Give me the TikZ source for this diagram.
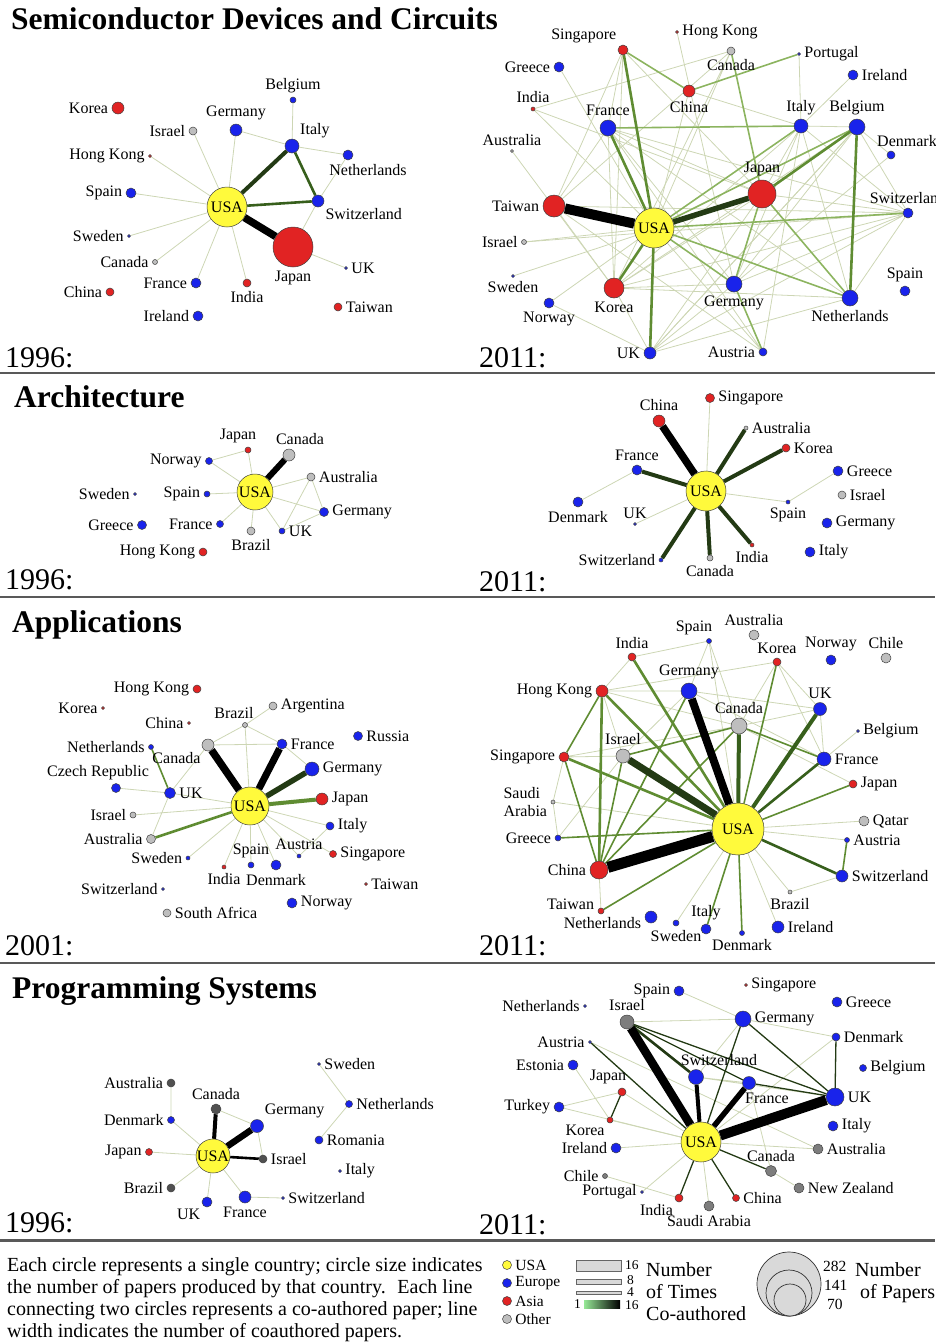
\documentclass[tikz,border=0pt]{standalone}
\usepackage{fontspec}
\setmainfont{Liberation Serif}
\usepackage{xcolor}
\usetikzlibrary{positioning}

\definecolor{usaY}{RGB}{255,250,60}
\definecolor{euB}{RGB}{25,35,235}
\definecolor{asR}{RGB}{225,35,35}
\definecolor{otG}{RGB}{190,190,190}
\definecolor{otD}{RGB}{80,80,80}
\definecolor{otM}{RGB}{125,125,125}
\definecolor{eA}{RGB}{205,214,180}
\definecolor{eB}{RGB}{140,180,95}
\definecolor{eC}{RGB}{95,140,50}
\definecolor{eD}{RGB}{55,95,28}
\definecolor{eE}{RGB}{35,58,20}
\definecolor{keyG}{RGB}{150,232,150}

\newcommand{\lblsize}{\fontsize{16}{18}\selectfont}
\newcommand{\keysize}{\fontsize{15.5}{17}\selectfont}
\newcommand{\barsize}{\fontsize{13.5}{15}\selectfont}

\pgfdeclarelayer{bg}
\pgfsetlayers{bg,main}

\begin{document}
\begin{tikzpicture}[
  x=1pt, y=-1pt,
  ctry/.style={circle, draw=black!75, line width=0.5pt, inner sep=0pt},
  usa/.style={ctry, fill=usaY, font=\lblsize},
  eu/.style={ctry, fill=euB},
  as/.style={ctry, fill=asR},
  ot/.style={ctry, fill=otG},
  otd/.style={ctry, fill=otD},
  otm/.style={ctry, fill=otM},
  every label/.append style={font=\lblsize, inner sep=1.5pt},
  label distance=2pt,
  w1/.style={line width=0.8pt, draw=eA},
  w2/.style={line width=1.6pt, draw=eB},
  w3/.style={line width=2.6pt, draw=eC},
  w4/.style={line width=4pt, draw=eD},
  w5/.style={line width=5.5pt, draw=eE},
  w6/.style={line width=7.5pt, draw=black},
  w7/.style={line width=10pt, draw=black},
  title/.style={font=\fontsize{31.5}{33}\selectfont\bfseries, anchor=base west, inner sep=0pt},
  year/.style={font=\fontsize{30}{32}\selectfont, anchor=base west, inner sep=0pt},
  sepline/.style={line width=2pt, draw=black!65}
]
\useasboundingbox (0,0) rectangle (935,1342);

% titles, years and rules
\node[title] (tsemi) at (11,29) {Semiconductor Devices and Circuits};
\node[title] (tarch) at (14,407) {Architecture};
\node[title] (tapp) at (12,632) {Applications};
\node[title] (tprog) at (12,998) {Programming Systems};
\node[year] (ysd96) at (5,367) {1996:};
\node[year] (ysd11) at (479,367) {2011:};
\node[year] (yar96) at (5,589) {1996:};
\node[year] (yar11) at (479,591) {2011:};
\node[year] (yap01) at (5,955) {2001:};
\node[year] (yap11) at (479,955) {2011:};
\node[year] (yps96) at (5,1232) {1996:};
\node[year] (yps11) at (479,1234) {2011:};
\draw[sepline] (0,373) -- (935,373);
\draw[sepline] (0,597) -- (935,597);
\draw[sepline] (0,963) -- (935,963);
\draw[sepline, line width=3pt] (0,1240) -- (935,1240);

%Nodes Semiconductor 1996
\node[usa, minimum size=40pt] (sd96usa) at (227,207) {USA};
\node[as, minimum size=40pt, label=below:Japan] (sd96jap) at (293,247) {};
\node[as, minimum size=12pt, label=left:Korea] (sd96kor) at (118,108) {};
\node[eu, minimum size=6pt, label=above:Belgium] (sd96bel) at (293,100) {};
\node[eu, minimum size=12pt, label=above:Germany] (sd96ger) at (236,130) {};
\node[ot, minimum size=8pt, label=left:Israel] (sd96isr) at (193,131) {};
\node[eu, minimum size=14pt, label=above right:Italy] (sd96ita) at (292,146) {};
\node[as, minimum size=3pt, label=left:Hong Kong] (sd96hk) at (150,156) {};
\node[eu, minimum size=10pt, label={[xshift=20pt]below:Netherlands}] (sd96net) at (348,155) {};
\node[eu, minimum size=10pt, label=left:Spain] (sd96spa) at (131,193) {};
\node[eu, minimum size=12pt, label=below right:Switzerland] (sd96swi) at (318,201) {};
\node[eu, minimum size=3pt, label=left:Sweden] (sd96swe) at (129,236) {};
\node[ot, minimum size=5pt, label=left:Canada] (sd96can) at (155,262) {};
\node[eu, minimum size=10pt, label=left:France] (sd96fra) at (196,283) {};
\node[as, minimum size=8pt, label=below:India] (sd96ind) at (247,283) {};
\node[eu, minimum size=3pt, label=right:UK] (sd96uk) at (346,268) {};
\node[as, minimum size=8pt, label=left:China] (sd96chi) at (110,292) {};
\node[as, minimum size=8pt, label=right:Taiwan] (sd96tai) at (338,307) {};
\node[eu, minimum size=10pt, label=left:Ireland] (sd96ire) at (198,316) {};

%Nodes Semiconductor 2011
\node[usa, minimum size=40pt] (sd11usa) at (654,228) {USA};
\node[as, minimum size=22pt, label=left:Taiwan] (sd11tai) at (554,206) {};
\node[as, minimum size=28pt, label=above:Japan] (sd11jap) at (762,194) {};
\node[as, minimum size=20pt, label=below:Korea] (sd11kor) at (614,288) {};
\node[as, minimum size=10pt, label=above left:Singapore] (sd11sgp) at (623,50) {};
\node[as, minimum size=3pt, label=right:Hong Kong] (sd11hk) at (677,32) {};
\node[ot, minimum size=8pt, label=below:Canada] (sd11can) at (731,51) {};
\node[eu, minimum size=3pt, label=right:Portugal] (sd11por) at (799,54) {};
\node[eu, minimum size=10pt, label=left:Greece] (sd11gre) at (559,67) {};
\node[eu, minimum size=10pt, label=right:Ireland] (sd11ire) at (853,75) {};
\node[as, minimum size=4pt, label=above:India] (sd11ind) at (533,109) {};
\node[as, minimum size=12pt, label=below:China] (sd11chi) at (689,91) {};
\node[eu, minimum size=16pt, label=above:France] (sd11fra) at (608,128) {};
\node[eu, minimum size=14pt, label=above:Italy] (sd11ita) at (801,126) {};
\node[eu, minimum size=16pt, label=above:Belgium] (sd11bel) at (857,127) {};
\node[ot, minimum size=3pt, label=above:Australia] (sd11aus) at (512,151) {};
\node[eu, minimum size=8pt, label={[xshift=16pt]above:Denmark}] (sd11den) at (891,155) {};
\node[eu, minimum size=10pt, label=above:Switzerland] (sd11swi) at (908,213) {};
\node[ot, minimum size=5pt, label=left:Israel] (sd11isr) at (524,242) {};
\node[eu, minimum size=3pt, label=below:Sweden] (sd11swe) at (513,276) {};
\node[eu, minimum size=16pt, label=below:Germany] (sd11ger) at (734,284) {};
\node[eu, minimum size=16pt, label=below:Netherlands] (sd11net) at (850,298) {};
\node[eu, minimum size=10pt, label=above:Spain] (sd11spa) at (905,291) {};
\node[eu, minimum size=10pt, label=below:Norway] (sd11nor) at (549,303) {};
\node[eu, minimum size=12pt, label=left:UK] (sd11uk) at (650,353) {};
\node[eu, minimum size=8pt, label=left:Austria] (sd11aut) at (763,352) {};

%Nodes Architecture 1996
\node[usa, minimum size=36pt] (ar96usa) at (255,492) {USA};
\node[as, minimum size=6pt, label={[xshift=-10pt]above:Japan}] (ar96jap) at (248,450) {};
\node[ot, minimum size=12pt, label={[xshift=11pt]above:Canada}] (ar96can) at (289,455) {};
\node[eu, minimum size=7pt, label=left:Norway] (ar96nor) at (209,461) {};
\node[ot, minimum size=8pt, label=right:Australia] (ar96aus) at (311,477) {};
\node[eu, minimum size=3pt, label=left:Sweden] (ar96swe) at (135,494) {};
\node[eu, minimum size=6pt, label=left:Spain] (ar96spa) at (207,494) {};
\node[eu, minimum size=9pt, label=right:Germany] (ar96ger) at (324,512) {};
\node[eu, minimum size=9pt, label=left:Greece] (ar96gre) at (142,525) {};
\node[eu, minimum size=7pt, label=left:France] (ar96fra) at (220,524) {};
\node[ot, minimum size=8pt, label=below:Brazil] (ar96bra) at (251,531) {};
\node[eu, minimum size=6pt, label=right:UK] (ar96uk) at (282,531) {};
\node[as, minimum size=8pt, label=left:Hong Kong] (ar96hk) at (203,552) {};

%Nodes Architecture 2011
\node[usa, minimum size=40pt] (ar11usa) at (706,491) {USA};
\node[as, minimum size=12pt, label=above:China] (ar11chi) at (659,421) {};
\node[as, minimum size=9pt, label=right:Singapore] (ar11sgp) at (710,398) {};
\node[ot, minimum size=4pt, label=right:Australia] (ar11aus) at (746,428) {};
\node[as, minimum size=8pt, label=right:Korea] (ar11kor) at (786,448) {};
\node[eu, minimum size=10pt, label=above:France] (ar11fra) at (637,470) {};
\node[eu, minimum size=10pt, label=right:Greece] (ar11gre) at (838,471) {};
\node[ot, minimum size=8pt, label=right:Israel] (ar11isr) at (842,495) {};
\node[eu, minimum size=10pt, label=below:Denmark] (ar11den) at (578,502) {};
\node[eu, minimum size=3pt, label=above:UK] (ar11uk) at (635,524) {};
\node[eu, minimum size=4pt, label=below:Spain] (ar11spa) at (788,502) {};
\node[eu, minimum size=10pt, label=right:Germany] (ar11ger) at (827,523) {};
\node[eu, minimum size=10pt, label=right:Italy] (ar11ita) at (810,552) {};
\node[eu, minimum size=4pt, label=left:Switzerland] (ar11swi) at (661,560) {};
\node[ot, minimum size=6pt, label=below:Canada] (ar11can) at (710,558) {};
\node[as, minimum size=4pt, label=below:India] (ar11ind) at (752,545) {};

%Nodes Applications 2001
\node[usa, minimum size=38pt] (ap01usa) at (250,806) {USA};
\node[as, minimum size=8pt, label=left:Hong Kong] (ap01hk) at (197,689) {};
\node[as, minimum size=3pt, label=left:Korea] (ap01kor) at (103,708) {};
\node[ot, minimum size=5pt, label={[xshift=-11pt]above:Brazil}] (ap01bra) at (245,725) {};
\node[ot, minimum size=8pt, label=right:Argentina] (ap01arg) at (273,706) {};
\node[as, minimum size=3pt, label=left:China] (ap01chi) at (189,723) {};
\node[eu, minimum size=5pt, label=left:Netherlands] (ap01net) at (151,747) {};
\node[ot, minimum size=12pt, label=below left:Canada] (ap01can) at (208,745) {};
\node[eu, minimum size=10pt, label=right:France] (ap01fra) at (282,744) {};
\node[eu, minimum size=9pt, label=right:Russia] (ap01rus) at (358,736) {};
\node[eu, minimum size=14pt, label=right:Germany] (ap01ger) at (312,769) {};
\node[eu, minimum size=9pt, label={[xshift=-18pt]above:Czech Republic}] (ap01cze) at (116,788) {};
\node[eu, minimum size=11pt, label=right:UK] (ap01uk) at (170,793) {};
\node[as, minimum size=12pt, label=right:Japan] (ap01jap) at (322,799) {};
\node[ot, minimum size=6pt, label=left:Israel] (ap01isr) at (133,815) {};
\node[eu, minimum size=8pt, label=right:Italy] (ap01ita) at (330,826) {};
\node[ot, minimum size=9pt, label=left:Australia] (ap01aus) at (151,839) {};
\node[eu, minimum size=4pt, label=above:Austria] (ap01aut) at (299,856) {};
\node[eu, minimum size=6pt, label=above:Spain] (ap01spa) at (251,865) {};
\node[as, minimum size=7pt, label=right:Singapore] (ap01sgp) at (333,854) {};
\node[eu, minimum size=4pt, label=left:Sweden] (ap01swe) at (188,858) {};
\node[eu, minimum size=10pt, label=below:Denmark] (ap01den) at (276,865) {};
\node[as, minimum size=4pt, label=below:India] (ap01ind) at (224,867) {};
\node[eu, minimum size=3pt, label=left:Switzerland] (ap01swz) at (163,889) {};
\node[as, minimum size=3pt, label=right:Taiwan] (ap01tai) at (366,884) {};
\node[eu, minimum size=10pt, label=right:Norway] (ap01nor) at (292,903) {};
\node[ot, minimum size=8pt, label=right:South Africa] (ap01saf) at (167,913) {};

%Nodes Applications 2011
\node[usa, minimum size=52pt] (ap11usa) at (738,829) {USA};
\node[as, minimum size=18pt, label=left:China] (ap11chi) at (599,870) {};
\node[eu, minimum size=16pt, label=above:Germany] (ap11ger) at (689,691) {};
\node[ot, minimum size=16pt, label=above:Canada] (ap11can) at (739,726) {};
\node[ot, minimum size=14pt, label=above:Israel] (ap11isr) at (623,756) {};
\node[as, minimum size=12pt, label=left:Hong Kong] (ap11hk) at (602,691) {};
\node[as, minimum size=8pt, label=above:India] (ap11ind) at (632,657) {};
\node[eu, minimum size=5pt, label={[xshift=-15pt]above:Spain}] (ap11spa) at (709,641) {};
\node[ot, minimum size=10pt, label=above:Australia] (ap11aus) at (754,635) {};
\node[as, minimum size=8pt, label=above:Korea] (ap11kor) at (777,662) {};
\node[eu, minimum size=10pt, label=above:Norway] (ap11nor) at (831,660) {};
\node[ot, minimum size=10pt, label=above:Chile] (ap11chl) at (886,658) {};
\node[eu, minimum size=13pt, label=above:UK] (ap11uk) at (820,709) {};
\node[eu, minimum size=3pt, label=right:Belgium] (ap11bel) at (858,731) {};
\node[eu, minimum size=14pt, label=right:France] (ap11fra) at (824,759) {};
\node[as, minimum size=8pt, label=right:Japan] (ap11jap) at (853,784) {};
\node[as, minimum size=10pt, label=left:Singapore] (ap11sgp) at (564,757) {};
\node[ot, minimum size=4pt, label={[align=left]left:{Saudi\\Arabia}}] (ap11sau) at (553,802) {};
\node[eu, minimum size=6pt, label=left:Greece] (ap11gre) at (558,838) {};
\node[ot, minimum size=10pt, label=right:Qatar] (ap11qat) at (864,821) {};
\node[eu, minimum size=5pt, label=right:Austria] (ap11aut) at (847,840) {};
\node[eu, minimum size=12pt, label=right:Switzerland] (ap11swi) at (842,876) {};
\node[ot, minimum size=4pt, label=below:Brazil] (ap11bra) at (790,892) {};
\node[as, minimum size=6pt, label={[yshift=7pt]left:Taiwan}] (ap11tai) at (601,911) {};
\node[eu, minimum size=12pt, label={[yshift=-6pt]left:Netherlands}] (ap11net) at (651,917) {};
\node[eu, minimum size=6pt, label=below:Sweden] (ap11swe) at (676,923) {};
\node[eu, minimum size=10pt, label=above:Italy] (ap11ita) at (706,929) {};
\node[eu, minimum size=5pt, label=below:Denmark] (ap11den) at (742,933) {};
\node[eu, minimum size=12pt, label=right:Ireland] (ap11ire) at (778,927) {};

%Nodes Programming 1996
\node[usa, minimum size=34pt] (ps96usa) at (213,1156) {USA};
\node[otd, minimum size=8pt, label=left:Australia] (ps96aus) at (171,1083) {};
\node[otd, minimum size=10pt, label=above:Canada] (ps96can) at (216,1109) {};
\node[eu, minimum size=13pt, label=above right:Germany] (ps96ger) at (257,1126) {};
\node[eu, minimum size=7pt, label=left:Denmark] (ps96den) at (171,1120) {};
\node[as, minimum size=7pt, label=left:Japan] (ps96jap) at (149,1152) {};
\node[otd, minimum size=8pt, label=right:Israel] (ps96isr) at (263,1159) {};
\node[otd, minimum size=8pt, label=left:Brazil] (ps96bra) at (171,1188) {};
\node[eu, minimum size=10pt, label=below left:UK] (ps96uk) at (207,1202) {};
\node[eu, minimum size=12pt, label=below:France] (ps96fra) at (245,1197) {};
\node[eu, minimum size=3pt, label=right:Switzerland] (ps96swz) at (283,1198) {};
\node[eu, minimum size=3pt, label=right:Sweden] (ps96swe) at (319,1064) {};
\node[eu, minimum size=7pt, label=right:Netherlands] (ps96net) at (349,1104) {};
\node[eu, minimum size=8pt, label=right:Romania] (ps96rom) at (319,1140) {};
\node[eu, minimum size=3pt, label=right:Italy] (ps96ita) at (340,1171) {};

%Nodes Programming 2011
\node[usa, minimum size=40pt] (ps11usa) at (701,1142) {USA};
\node[otm, minimum size=14pt, label=above:Israel] (ps11isr) at (627,1022) {};
\node[eu, minimum size=3pt, label=left:Netherlands] (ps11net) at (585,1006) {};
\node[eu, minimum size=10pt, label=left:Spain] (ps11spa) at (679,991) {};
\node[as, minimum size=3pt, label=right:Singapore] (ps11sgp) at (746,985) {};
\node[eu, minimum size=16pt, label=right:Germany] (ps11ger) at (743,1019) {};
\node[eu, minimum size=10pt, label=right:Greece] (ps11gre) at (837,1002) {};
\node[eu, minimum size=8pt, label=right:Denmark] (ps11den) at (836,1037) {};
\node[eu, minimum size=3pt, label=left:Austria] (ps11aut) at (590,1042) {};
\node[eu, minimum size=10pt, label=left:Estonia] (ps11est) at (573,1065) {};
\node[eu, minimum size=15pt, label={[xshift=23pt]above:Switzerland}] (ps11swi) at (696,1077) {};
\node[eu, minimum size=7pt, label=right:Belgium] (ps11bel) at (863,1068) {};
\node[as, minimum size=8pt, label={[xshift=-14pt]above:Japan}] (ps11jap) at (622,1092) {};
\node[eu, minimum size=13pt, label={[xshift=18pt]below:France}] (ps11fra) at (749,1083) {};
\node[eu, minimum size=18pt, label=right:UK] (ps11uk) at (835,1097) {};
\node[eu, minimum size=10pt, label=left:Turkey] (ps11tur) at (559,1107) {};
\node[as, minimum size=6pt, label=below left:Korea] (ps11kor) at (610,1120) {};
\node[eu, minimum size=10pt, label=right:Italy] (ps11ita) at (833,1126) {};
\node[eu, minimum size=10pt, label=left:Ireland] (ps11ire) at (616,1148) {};
\node[otm, minimum size=10pt, label=right:Australia] (ps11aus) at (818,1149) {};
\node[otm, minimum size=11pt, label=above:Canada] (ps11can) at (771,1171) {};
\node[otm, minimum size=5pt, label=left:Chile] (ps11chl) at (605,1176) {};
\node[otm, minimum size=10pt, label=right:New Zealand] (ps11nzl) at (799,1188) {};
\node[eu, minimum size=3pt, label=left:Portugal] (ps11por) at (642,1192) {};
\node[as, minimum size=8pt, label=below left:India] (ps11ind) at (679,1198) {};
\node[as, minimum size=7pt, label=right:China] (ps11chi) at (736,1198) {};
\node[otm, minimum size=10pt, label=below:Saudi Arabia] (ps11sau) at (709,1206) {};

%Lines
\begin{pgfonlayer}{bg}
% semiconductor 1996
\draw[w1] (sd96usa) -- (sd96isr) (sd96usa) -- (sd96ger) (sd96usa) -- (sd96hk) (sd96usa) -- (sd96spa);
\draw[w1] (sd96usa) -- (sd96swe) (sd96usa) -- (sd96can) (sd96usa) -- (sd96fra) (sd96usa) -- (sd96ind);
\draw[w1] (sd96ger) -- (sd96ita) (sd96bel) -- (sd96ita) (sd96ita) -- (sd96net) (sd96net) -- (sd96swi);
\draw[w1] (sd96swi) -- (sd96jap) (sd96jap) -- (sd96uk);
\draw[w3, draw=eD] (sd96usa) -- (sd96swi) (sd96ita) -- (sd96swi);
\draw[w4, draw=eE] (sd96usa) -- (sd96ita);
\draw[w6] (sd96usa) -- (sd96jap);
% semiconductor 2011
\draw[w1] (sd11sgp) -- (sd11tai) (sd11sgp) -- (sd11fra) (sd11sgp) -- (sd11jap) (sd11sgp) -- (sd11kor);
\draw[w1] (sd11gre) -- (sd11usa) (sd11ind) -- (sd11can) (sd11ind) -- (sd11usa) (sd11ind) -- (sd11jap);
\draw[w1] (sd11hk) -- (sd11ger) (sd11can) -- (sd11tai) (sd11can) -- (sd11usa) (sd11can) -- (sd11kor);
\draw[w1] (sd11por) -- (sd11ita) (sd11ire) -- (sd11ita) (sd11chi) -- (sd11usa) (sd11chi) -- (sd11ita);
\draw[w1] (sd11fra) -- (sd11kor) (sd11fra) -- (sd11jap) (sd11fra) -- (sd11net) (sd11fra) -- (sd11swi);
\draw[w1] (sd11fra) -- (sd11tai) (sd11fra) -- (sd11ger) (sd11ita) -- (sd11jap) (sd11ita) -- (sd11ger);
\draw[w1] (sd11ita) -- (sd11kor) (sd11ita) -- (sd11net) (sd11ita) -- (sd11swi) (sd11ita) -- (sd11aut);
\draw[w1] (sd11bel) -- (sd11usa) (sd11bel) -- (sd11kor) (sd11bel) -- (sd11ger) (sd11bel) -- (sd11swi);
\draw[w1] (sd11bel) -- (sd11den) (sd11bel) -- (sd11ita) (sd11bel) -- (sd11uk) (sd11aus) -- (sd11kor);
\draw[w1] (sd11den) -- (sd11ger) (sd11jap) -- (sd11swi) (sd11jap) -- (sd11kor) (sd11jap) -- (sd11uk);
\draw[w1] (sd11swi) -- (sd11tai) (sd11swi) -- (sd11kor) (sd11swi) -- (sd11net) (sd11swi) -- (sd11isr);
\draw[w1] (sd11swi) -- (sd11uk) (sd11swi) -- (sd11ger) (sd11isr) -- (sd11usa) (sd11swe) -- (sd11jap);
\draw[w1] (sd11nor) -- (sd11uk) (sd11nor) -- (sd11usa) (sd11kor) -- (sd11ger) (sd11kor) -- (sd11net);
\draw[w1] (sd11kor) -- (sd11uk) (sd11kor) -- (sd11tai) (sd11ger) -- (sd11uk) (sd11net) -- (sd11uk);
\draw[w1] (sd11uk) -- (sd11bel) (sd11aut) -- (sd11usa) (sd11aut) -- (sd11fra) (sd11aut) -- (sd11tai);
\draw[w2] (sd11usa) -- (sd11net) (sd11usa) -- (sd11ger) (sd11usa) -- (sd11swi) (sd11usa) -- (sd11ita);
\draw[w2] (sd11jap) -- (sd11ger) (sd11jap) -- (sd11net) (sd11can) -- (sd11jap) (sd11chi) -- (sd11por);
\draw[w2] (sd11ger) -- (sd11aut) (sd11usa) -- (sd11bel) (sd11sgp) -- (sd11chi) (sd11fra) -- (sd11ita);
\draw[w3] (sd11usa) -- (sd11fra) (sd11usa) -- (sd11sgp) (sd11usa) -- (sd11uk) (sd11usa) -- (sd11kor);
\draw[w3] (sd11jap) -- (sd11bel) (sd11bel) -- (sd11net);
\draw[w5] (sd11usa) -- (sd11jap);
\draw[w7] (sd11usa) -- (sd11tai);
% architecture 1996
\draw[w1] (ar96usa) -- (ar96jap) (ar96jap) -- (ar96nor) (ar96nor) -- (ar96usa) (ar96usa) -- (ar96spa);
\draw[w1] (ar96usa) -- (ar96fra) (ar96usa) -- (ar96bra) (ar96usa) -- (ar96uk) (ar96usa) -- (ar96aus);
\draw[w1] (ar96usa) -- (ar96ger) (ar96aus) -- (ar96ger) (ar96aus) -- (ar96uk) (ar96uk) -- (ar96ger);
\draw[w6, line width=6pt] (ar96usa) -- (ar96can);
% architecture 2011
\draw[w1] (ar11usa) -- (ar11sgp) (ar11fra) -- (ar11den) (ar11usa) -- (ar11uk) (ar11usa) -- (ar11spa);
\draw[w1] (ar11spa) -- (ar11gre);
\draw[w4, draw=eE] (ar11usa) -- (ar11aus) (ar11usa) -- (ar11kor) (ar11usa) -- (ar11fra);
\draw[w4, draw=eE] (ar11usa) -- (ar11swi) (ar11usa) -- (ar11can) (ar11usa) -- (ar11ind);
\draw[w6] (ar11usa) -- (ar11chi);
% applications 2001
\draw[w1] (ap01usa) -- (ap01bra) (ap01bra) -- (ap01arg) (ap01bra) -- (ap01can) (ap01can) -- (ap01fra);
\draw[w1] (ap01bra) -- (ap01fra) (ap01fra) -- (ap01ger) (ap01usa) -- (ap01uk) (ap01uk) -- (ap01cze);
\draw[w1] (ap01uk) -- (ap01can) (ap01uk) -- (ap01aus) (ap01usa) -- (ap01isr) (ap01usa) -- (ap01ita);
\draw[w1] (ap01ita) -- (ap01aut) (ap01usa) -- (ap01spa) (ap01usa) -- (ap01den) (ap01usa) -- (ap01aut);
\draw[w1] (ap01usa) -- (ap01sgp) (ap01usa) -- (ap01ind) (ap01usa) -- (ap01swe);
\draw[w2, draw=eC] (ap01net) -- (ap01uk);
\draw[w3] (ap01usa) -- (ap01aus);
\draw[w4, draw=eC] (ap01usa) -- (ap01jap);
\draw[w5] (ap01usa) -- (ap01ger);
\draw[w6, line width=7pt] (ap01usa) -- (ap01fra);
\draw[w6] (ap01usa) -- (ap01can);
% applications 2011
\draw[w1] (ap11usa) -- (ap11spa) (ap11usa) -- (ap11ire) (ap11usa) -- (ap11swe) (ap11usa) -- (ap11bra);
\draw[w1] (ap11usa) -- (ap11aut) (ap11usa) -- (ap11sau) (ap11usa) -- (ap11qat) (ap11chi) -- (ap11tai);
\draw[w1] (ap11hk) -- (ap11ger) (ap11hk) -- (ap11isr) (ap11hk) -- (ap11can) (ap11hk) -- (ap11ind);
\draw[w1] (ap11sgp) -- (ap11isr) (ap11sgp) -- (ap11can) (ap11isr) -- (ap11ger) (ap11can) -- (ap11uk);
\draw[w1] (ap11ger) -- (ap11fra) (ap11ger) -- (ap11uk) (ap11kor) -- (ap11uk) (ap11kor) -- (ap11fra);
\draw[w1] (ap11kor) -- (ap11can) (ap11uk) -- (ap11fra) (ap11fra) -- (ap11bel) (ap11swi) -- (ap11bra);
\draw[w1] (ap11sau) -- (ap11gre) (ap11sau) -- (ap11sgp) (ap11spa) -- (ap11ind) (ap11spa) -- (ap11can);
\draw[w1] (ap11spa) -- (ap11ger) (ap11hk) -- (ap11kor) (ap11can) -- (ap11jap) (ap11gre) -- (ap11isr);
\draw[w2, draw=eC] (ap11usa) -- (ap11gre) (ap11usa) -- (ap11ita) (ap11usa) -- (ap11den) (ap11usa) -- (ap11jap);
\draw[w2, draw=eC] (ap11usa) -- (ap11kor) (ap11usa) -- (ap11tai) (ap11chi) -- (ap11sgp) (ap11hk) -- (ap11sgp);
\draw[w2, draw=eC] (ap11can) -- (ap11fra) (ap11chi) -- (ap11can) (ap11chi) -- (ap11ger) (ap11chi) -- (ap11isr);
\draw[w2, draw=eC] (ap11aut) -- (ap11swi) (ap11can) -- (ap11isr);
\draw[w3] (ap11usa) -- (ap11hk) (ap11usa) -- (ap11ind) (ap11usa) -- (ap11sgp) (ap11chi) -- (ap11hk);
\draw[w3, draw=eD] (ap11usa) -- (ap11fra) (ap11usa) -- (ap11swi);
\draw[w4] (ap11usa) -- (ap11can) (ap11usa) -- (ap11uk);
\draw[w5, line width=7pt] (ap11usa) -- (ap11isr);
\draw[w6, line width=8pt] (ap11usa) -- (ap11ger);
\draw[w7, line width=11pt] (ap11usa) -- (ap11chi);
% programming 1996
\draw[w1] (ps96can) -- (ps96ger) (ps96ger) -- (ps96isr) (ps96aus) -- (ps96den) (ps96den) -- (ps96usa);
\draw[w1] (ps96jap) -- (ps96usa) (ps96bra) -- (ps96usa) (ps96uk) -- (ps96usa) (ps96fra) -- (ps96usa);
\draw[w1] (ps96fra) -- (ps96swz) (ps96swe) -- (ps96net) (ps96net) -- (ps96rom);
\draw[w3, draw=black] (ps96usa) -- (ps96isr);
\draw[w4, draw=black] (ps96usa) -- (ps96can);
\draw[w6, line width=6.5pt] (ps96usa) -- (ps96ger);
% programming 2011
\draw[w1] (ps11isr) -- (ps11ger) (ps11spa) -- (ps11ger) (ps11ger) -- (ps11swi) (ps11ger) -- (ps11den);
\draw[w1] (ps11den) -- (ps11usa) (ps11swi) -- (ps11fra) (ps11swi) -- (ps11uk) (ps11aut) -- (ps11aus);
\draw[w1] (ps11est) -- (ps11kor) (ps11jap) -- (ps11tur) (ps11jap) -- (ps11usa) (ps11tur) -- (ps11usa);
\draw[w1] (ps11kor) -- (ps11usa) (ps11ire) -- (ps11usa) (ps11chl) -- (ps11ind) (ps11por) -- (ps11usa);
\draw[w1] (ps11sau) -- (ps11usa) (ps11can) -- (ps11nzl) (ps11fra) -- (ps11can) (ps11aus) -- (ps11usa);
\draw[w2, line width=1.3pt, draw=eE] (ps11isr) -- (ps11uk) (ps11ger) -- (ps11uk) (ps11ger) -- (ps11usa) (ps11den) -- (ps11uk);
\draw[w2, line width=1.3pt, draw=eE] (ps11fra) -- (ps11uk) (ps11jap) -- (ps11kor) (ps11ind) -- (ps11usa) (ps11chi) -- (ps11usa);
\draw[w2, line width=1.3pt, draw=eE] (ps11can) -- (ps11usa) (ps11aut) -- (ps11usa) (ps11isr) -- (ps11fra);
\draw[w3, draw=eE] (ps11isr) -- (ps11swi);
\draw[w4, draw=black] (ps11usa) -- (ps11swi);
\draw[w5, draw=black] (ps11usa) -- (ps11fra);
\draw[w6, line width=8.5pt] (ps11usa) -- (ps11isr);
\draw[w7] (ps11usa) -- (ps11uk);
\end{pgfonlayer}

%Key
\node[anchor=base west, align=left, inner sep=0pt, font=\fontsize{20}{22}\selectfont] (keytext) at (7,1337)
  {Each circle represents a single country; circle size indicates\\
   the number of papers produced by that country.~ Each line\\
   connecting two circles represents a co-authored paper; line\\
   width indicates the number of coauthored papers.};
\node[usa, minimum size=9pt, label={[font=\keysize]right:USA}] (keyusa) at (507,1265) {};
\node[eu, minimum size=9pt, label={[font=\keysize]right:Europe}] (keyeu) at (507,1283) {};
\node[as, minimum size=9pt, label={[font=\keysize]right:Asia}] (keyas) at (507,1301) {};
\node[ot, minimum size=9pt, label={[font=\keysize]right:Other}] (keyot) at (507,1319) {};
\draw[fill=black!15, draw=black!60, line width=0.6pt] (576,1260) rectangle (621,1271);
\draw[fill=black!15, draw=black!60, line width=0.6pt] (576,1279) rectangle (621,1284);
\draw[fill=black!15, draw=black!60, line width=0.6pt] (576,1291) rectangle (621,1294);
\shade[left color=keyG, middle color=green!45!black, right color=black] (584,1300) rectangle (620,1308);
\node[font=\barsize, anchor=west, inner sep=1pt] (key16a) at (624,1265) {16};
\node[font=\barsize, anchor=west, inner sep=1pt] (key8) at (626,1280) {8};
\node[font=\barsize, anchor=west, inner sep=1pt] (key4) at (626,1292) {4};
\node[font=\barsize, anchor=east, inner sep=1pt] (key1) at (582,1304) {1};
\node[font=\barsize, anchor=west, inner sep=1pt] (key16b) at (624,1305) {16};
\node[anchor=base west, align=left, inner sep=0pt, font=\fontsize{20}{22}\selectfont] (keytimes) at (646,1320)
  {Number\\of Times\\Co-authored};
\draw[fill=black!15, draw=black!80, line width=0.7pt] (789,1284) circle[radius=32pt];
\draw[fill=black!15, draw=black!80, line width=0.7pt] (789,1293) circle[radius=23pt];
\draw[fill=black!15, draw=black!80, line width=0.7pt] (790,1300) circle[radius=16pt];
\node[font=\keysize, anchor=west, inner sep=1pt] (key282) at (822,1266) {282};
\node[font=\keysize, anchor=west, inner sep=1pt] (key141) at (823,1285) {141};
\node[font=\keysize, anchor=west, inner sep=1pt] (key70) at (826,1304) {70};
\node[anchor=base west, align=left, inner sep=0pt, font=\fontsize{20}{22}\selectfont] (keypapers) at (855,1298)
  {Number\\\hspace*{5pt}of Papers};
\end{tikzpicture}
\end{document}
